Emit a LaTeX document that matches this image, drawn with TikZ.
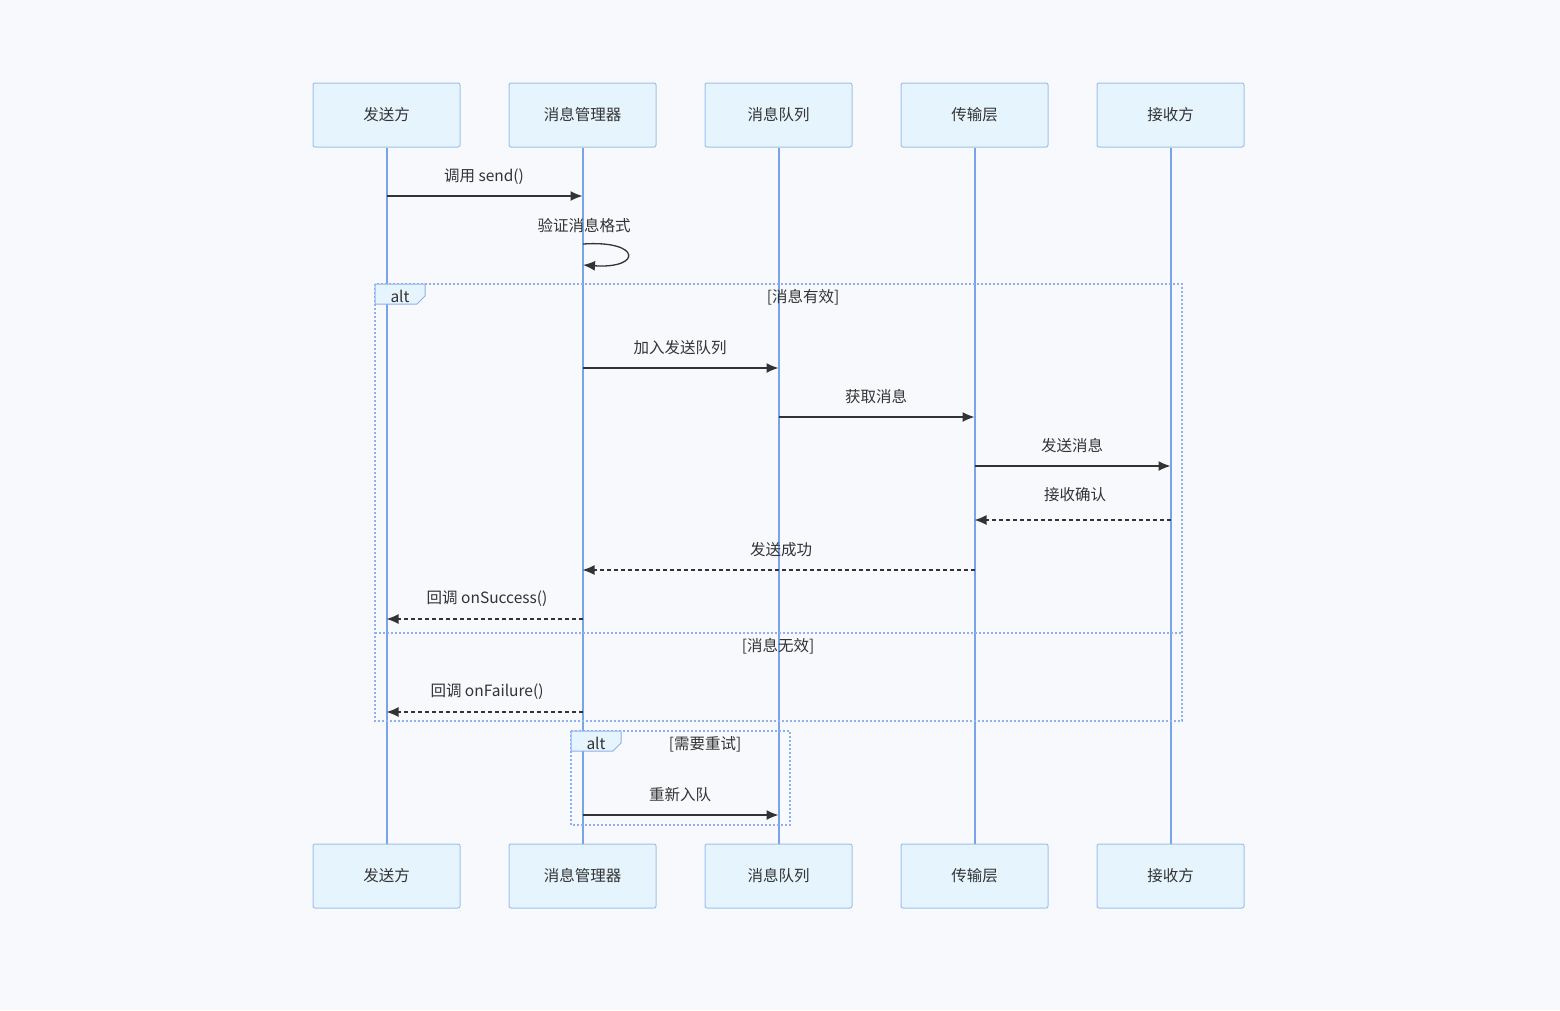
\documentclass[tikz,border=0pt]{standalone}
\usepackage{fontspec}
\setmainfont{Noto Sans CJK SC}
\usetikzlibrary{arrows.meta}
\definecolor{bgc}{HTML}{F8F9FC}
\definecolor{boxfill}{HTML}{E6F4FD}
\definecolor{boxline}{HTML}{9DC1EE}
\definecolor{lifec}{HTML}{7AA3EA}
\definecolor{framec}{HTML}{8DB0EE}
\definecolor{txtc}{HTML}{333333}
\tikzset{
	actor/.style={draw=boxline, fill=boxfill, line width=1pt, rounded corners=2pt, minimum width=147pt, minimum height=64pt, text=txtc, font=\fontsize{15.5}{18}\selectfont},
	msgtext/.style={text=txtc, font=\fontsize{15.5}{18}\selectfont},
	msg/.style={line width=1.3pt, color=txtc, -{Latex[length=12pt,width=10pt]}},
	reply/.style={msg, dash pattern=on 4pt off 3pt},
	frameline/.style={draw=framec, line width=1.5pt, dash pattern=on 2pt off 2pt},
	tagbox/.style={draw=framec, fill=boxfill, line width=1pt}
}

\begin{document}
\begin{tikzpicture}[x=1pt, y=-1pt]
		%%%%% START %%%%%
		
		\fill[bgc] (0,0) rectangle (1560,1010);
		\useasboundingbox (0,0) rectangle (1560,1010);
		
		% actors, top and bottom
		\node[actor] (snd) at (386.5,115) {发送方};
		\node[actor] (mgr) at (582.5,115) {消息管理器};
		\node[actor] (que) at (778.5,115) {消息队列};
		\node[actor] (trn) at (974.5,115) {传输层};
		\node[actor] (rcv) at (1170.5,115) {接收方};
		
		\node[actor] (sndB) at (386.5,876) {发送方};
		\node[actor] (mgrB) at (582.5,876) {消息管理器};
		\node[actor] (queB) at (778.5,876) {消息队列};
		\node[actor] (trnB) at (974.5,876) {传输层};
		\node[actor] (rcvB) at (1170.5,876) {接收方};
		
		% lifelines
		\foreach \a in {snd,mgr,que,trn,rcv}
			\draw[line width=2pt, color=lifec] (\a.south) -- (\a B.north);
		
		% alt frames
		\draw[frameline] (375,284) rectangle (1182,721);
		\draw[frameline] (375,633) -- (1182,633);
		\draw[tagbox] (375,284) -- (425,284) -- (425,296) -- (417,304) -- (375,304) -- cycle;
		\node[msgtext] (alt1) at (400,296) {alt};
		\node[msgtext] (ok) at (803,297) {[消息有效]};
		\node[msgtext] (bad) at (778,646) {[消息无效]};
		
		\draw[frameline] (571,731) rectangle (790,825);
		\draw[tagbox] (571,731) -- (621,731) -- (621,743) -- (613,751) -- (571,751) -- cycle;
		\node[msgtext] (alt2) at (596,743) {alt};
		\node[msgtext] (retry) at (705,744) {[需要重试]};
		
		% messages
		\node[msgtext] (t1) at (484,177) {调用 send()};
		\draw[msg] (snd.south |- 0,196) -- (mgr.south |- 0,196);
		
		\node[msgtext] (t2) at (584,226) {验证消息格式};
		\coordinate (loopA) at (583,244);
		\coordinate (loopB) at (583,265);
		\draw[msg] (loopA) .. controls (642,240) and (642,269) .. (loopB);
		
		\node[msgtext] (t3) at (680,348) {加入发送队列};
		\draw[msg] (mgr.south |- 0,368) -- (que.south |- 0,368);
		
		\node[msgtext] (t4) at (876,397) {获取消息};
		\draw[msg] (que.south |- 0,417) -- (trn.south |- 0,417);
		
		\node[msgtext] (t5) at (1072,446) {发送消息};
		\draw[msg] (trn.south |- 0,466) -- (rcv.south |- 0,466);
		
		\node[msgtext] (t6) at (1075,495) {接收确认};
		\draw[reply] (rcv.south |- 0,520) -- (trn.south |- 0,520);
		
		\node[msgtext] (t7) at (781,550) {发送成功};
		\draw[reply] (trn.south |- 0,570) -- (mgr.south |- 0,570);
		
		\node[msgtext] (t8) at (487,599) {回调 onSuccess()};
		\draw[reply] (mgr.south |- 0,619) -- (snd.south |- 0,619);
		
		\node[msgtext] (t9) at (487,692) {回调 onFailure()};
		\draw[reply] (mgr.south |- 0,712) -- (snd.south |- 0,712);
		
		\node[msgtext] (t10) at (680,795) {重新入队};
		\draw[msg] (mgr.south |- 0,815) -- (que.south |- 0,815);
		
		%%%%% END %%%%%
\end{tikzpicture}
\end{document}
